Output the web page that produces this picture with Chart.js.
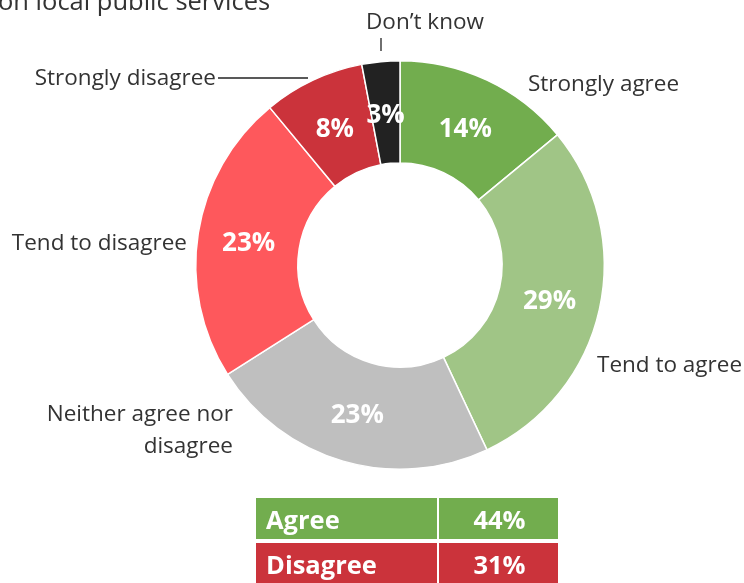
<!DOCTYPE html>
<html>
<head>
<meta charset="utf-8">
<script src="https://cdn.jsdelivr.net/npm/chart.js@4.4.0/dist/chart.umd.min.js"></script>
<style>
  html, body { margin: 0; padding: 0; background: #fff; }
  #wrap { position: relative; width: 744px; height: 583px; overflow: hidden; font-family: "Open Sans", "Noto Sans", sans-serif; }
  #c { position: absolute; left: 0; top: 0; }
  .row { position: absolute; left: 256px; width: 302px; height: 41px; color: #fff; font-weight: 700; font-size: 25.5px; }
  .row .name { position: absolute; left: 10px; top: 0; line-height: 43px; }
  .row .val { position: absolute; left: 181px; width: 121px; top: 0; line-height: 43px; text-align: center; border-left: 2px solid #fff; height: 41px; }
</style>
</head>
<body>
<div id="wrap">
  <canvas id="c" width="744" height="583"></canvas>
  <div id="summary"></div>
</div>
<script>
// Survey responses: agreement with the statement on local public services (%)
const categories = ["Strongly agree", "Tend to agree", "Neither agree nor disagree", "Tend to disagree", "Strongly disagree", "Don\u2019t know"];
const values = [14, 29, 23, 23, 8, 3];
const colors = ["#72ad4e", "#a0c586", "#bfbfbf", "#fe585c", "#cb333b", "#222222"];

// Net summary rows shown beneath the doughnut
const summaryLabels = ["Agree", "Disagree"];
const summaryValues = [44, 31];
const summaryColors = ["#72ad4e", "#cb333b"];

const titleTail = "on local public services";

// Outside label placement relative to the doughnut centre: lines, dx, dy, alignment
const outsideLabels = [
  { lines: ["Strongly agree"], dx: 128, dy: -180, align: "left" },
  { lines: ["Tend to agree"], dx: 197, dy: 101, align: "left" },
  { lines: ["Neither agree nor", "disagree"], dx: -167, dy: 150, align: "right" },
  { lines: ["Tend to disagree"], dx: -213, dy: -21, align: "right" },
  { lines: ["Strongly disagree"], dx: -184, dy: -186, align: "right", leader: [-182, -187, -92, -187] },
  { lines: ["Don\u2019t know"], dx: 25, dy: -242, align: "center", leader: [-19, -227, -19, -214] }
];

const labelPlugin = {
  id: "sliceLabels",
  afterDraw(chart) {
    const ctx = chart.ctx;
    const meta = chart.getDatasetMeta(0);
    const cx = meta.data[0].x, cy = meta.data[0].y;
    ctx.save();
    // title tail clipped at the top edge
    ctx.fillStyle = "#333";
    ctx.font = "25.5px 'Open Sans', 'Noto Sans', sans-serif";
    ctx.textAlign = "left";
    ctx.textBaseline = "alphabetic";
    ctx.fillText(titleTail, -2, 10);

    // percentages inside the slices
    ctx.fillStyle = "#fff";
    ctx.font = "bold 26px 'Open Sans', 'Noto Sans', sans-serif";
    ctx.textAlign = "center";
    ctx.textBaseline = "middle";
    meta.data.forEach((arc, i) => {
      const p = arc.tooltipPosition();
      ctx.fillText(values[i] + "%", p.x, p.y + 3);
    });

    // category labels outside the ring
    ctx.fillStyle = "#333";
    ctx.strokeStyle = "#222";
    ctx.lineWidth = 1.3;
    ctx.font = "22.5px 'Open Sans', 'Noto Sans', sans-serif";
    outsideLabels.forEach((l, i) => {
      ctx.textAlign = l.align;
      l.lines.forEach((t, k) => ctx.fillText(t, cx + l.dx, cy + l.dy + k * 32));
      if (l.leader) {
        ctx.beginPath();
        ctx.moveTo(cx + l.leader[0], cy + l.leader[1]);
        ctx.lineTo(cx + l.leader[2], cy + l.leader[3]);
        ctx.stroke();
      }
    });
    ctx.restore();
  }
};

new Chart(document.getElementById("c"), {
  type: "doughnut",
  data: {
    labels: categories,
    datasets: [{
      data: values,
      backgroundColor: colors,
      borderColor: "#ffffff",
      borderWidth: 1.5
    }]
  },
  options: {
    responsive: false,
    animation: false,
    cutout: "50%",
    layout: { padding: { left: 195, right: 139, top: 60, bottom: 113 } },
    plugins: { legend: { display: false }, tooltip: { enabled: false } }
  },
  plugins: [labelPlugin]
});

// summary table
const summary = document.getElementById("summary");
summaryLabels.forEach((name, i) => {
  const row = document.createElement("div");
  row.className = "row";
  row.style.top = (498 + i * 45) + "px";
  row.style.background = summaryColors[i];
  row.innerHTML = '<span class="name">' + name + '</span><span class="val">' + summaryValues[i] + '%</span>';
  summary.appendChild(row);
});
</script>
</body>
</html>
